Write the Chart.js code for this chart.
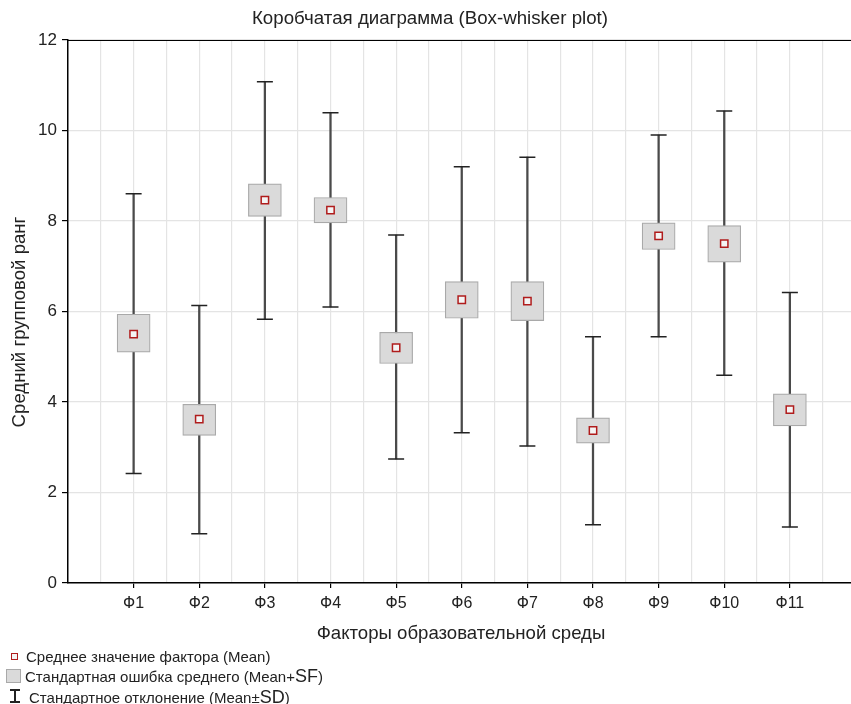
<!DOCTYPE html>
<html><head><meta charset="utf-8">
<script src="https://cdn.jsdelivr.net/npm/chart.js@4.4.1/dist/chart.umd.min.js"></script>
<style>
html,body{margin:0;padding:0;background:#fff;overflow:hidden;}
#wrap{position:relative;width:865px;height:704px;}
canvas{position:absolute;left:0;top:0;}
.t{position:absolute;font-family:"Liberation Sans",Arial,sans-serif;color:#222;white-space:nowrap;line-height:1;}
.big{font-size:1.2em;}
.mk{position:absolute;box-sizing:border-box;}
</style></head><body>
<div id="wrap">
<canvas id="c" width="865" height="704"></canvas>
<div class="t" style="left:430px;top:18px;transform:translate(-50%,-50%);font-size:18.7px;">Коробчатая диаграмма (Box-whisker plot)</div>
<div class="t" style="left:461px;top:633px;transform:translate(-50%,-50%);font-size:18.6px;">Факторы образовательной среды</div>
<div class="t" style="left:19px;top:322px;transform:translate(-50%,-50%) rotate(-90deg);font-size:18.6px;">Средний групповой ранг</div>

<div class="mk" style="left:11px;top:653px;width:7px;height:7px;border:1.5px solid #b01c1c;background:#f4f4f4;"></div>
<div class="t" style="left:26px;top:656px;transform:translateY(-50%);font-size:15px;">Среднее значение фактора (Mean)</div>
<div class="mk" style="left:6px;top:669px;width:15px;height:14px;border:1px solid #a9a9a9;background:#dadada;"></div>
<div class="t" style="left:25px;top:676px;transform:translateY(-50%);font-size:15px;">Стандартная ошибка среднего (Mean+<span class="big">SF</span>)</div>
<div class="mk" style="left:14px;top:689px;width:1.5px;height:13px;background:#222;"></div>
<div class="mk" style="left:10px;top:689px;width:10px;height:1.5px;background:#222;"></div>
<div class="mk" style="left:10px;top:701px;width:10px;height:1.5px;background:#222;"></div>
<div class="t" style="left:29px;top:697px;transform:translateY(-50%);font-size:15px;">Стандартное отклонение (Mean±<span class="big">SD</span>)</div>
</div>
<script>
const categories = ['Ф1','Ф2','Ф3','Ф4','Ф5','Ф6','Ф7','Ф8','Ф9','Ф10','Ф11'];
const meanValues = [5.50, 3.62, 8.46, 8.24, 5.20, 6.26, 6.23, 3.37, 7.67, 7.50, 3.83];
const seLow  = [5.10, 3.26, 8.10, 7.96, 4.85, 5.85, 5.80, 3.09, 7.37, 7.09, 3.47];
const seHigh = [5.94, 3.95, 8.82, 8.52, 5.54, 6.66, 6.66, 3.65, 7.96, 7.90, 4.18];
const sdLow  = [2.42, 1.09, 5.83, 6.10, 2.74, 3.32, 3.03, 1.29, 5.44, 4.59, 1.24];
const sdHigh = [8.60, 6.13, 11.08, 10.39, 7.69, 9.20, 9.41, 5.44, 9.90, 10.43, 6.42];
const yTicks = [0, 2, 4, 6, 8, 10, 12];

const pos = categories.map((c, i) => i + 1);
const isCat = v => Number.isInteger(v) && v >= 1 && v <= categories.length;

const frame = {
  id: 'frame',
  afterDraw(chart) {
    const {ctx, chartArea: a} = chart;
    ctx.save();
    ctx.strokeStyle = '#000';
    ctx.lineWidth = 1.2;
    ctx.beginPath();
    ctx.moveTo(a.left, a.top + 0.5);
    ctx.lineTo(a.right, a.top + 0.5);
    ctx.stroke();
    ctx.restore();
  }
};

new Chart(document.getElementById('c'), {
  type: 'bar',
  data: {
    datasets: [
      {
        type: 'scatter', label: 'Mean', order: 0,
        data: pos.map((x, i) => ({x, y: meanValues[i]})),
        pointStyle: 'rect', pointRadius: 5.2, pointBorderWidth: 1.5,
        pointBorderColor: '#b01c1c', pointBackgroundColor: '#f4f4f4'
      },
      {
        type: 'bar', label: 'SE', order: 1, grouped: false,
        data: pos.map((x, i) => ({x, y: [seLow[i], seHigh[i]]})),
        backgroundColor: '#dadada', borderColor: '#a9a9a9', borderWidth: 1.2,
        borderSkipped: false, barThickness: 33
      },
      {
        type: 'scatter', label: 'caps', order: 2,
        data: pos.map((x, i) => ({x, y: sdLow[i]})).concat(pos.map((x, i) => ({x, y: sdHigh[i]}))),
        pointStyle: 'line', pointRadius: 8, pointBorderWidth: 1.5, pointBorderColor: '#222'
      },
      {
        type: 'bar', label: 'SD', order: 3, grouped: false,
        data: pos.map((x, i) => ({x, y: [sdLow[i], sdHigh[i]]})),
        backgroundColor: '#4a4a4a', borderWidth: 0, barThickness: 1.6
      }
    ]
  },
  options: {
    responsive: false, animation: false, devicePixelRatio: 1,
    layout: {padding: {top: 40, left: 0, right: 0, bottom: 0}},
    plugins: {legend: {display: false}, tooltip: {enabled: false}},
    scales: {
      x: {
        type: 'linear', min: 0, max: categories.length + 1, offset: false,
        afterFit(s) { s.height = 121; },
        afterBuildTicks(s) {
          const t = [];
          for (let v = 0; v <= categories.length + 1; v += 0.5) t.push({value: v});
          s.ticks = t;
        },
        ticks: {
          autoSkip: false, maxRotation: 0, padding: 6,
          color: '#222', font: {family: '"Liberation Sans",Arial', size: 16},
          callback: v => isCat(v) ? categories[v - 1] : ''
        },
        grid: {
          offset: false,
          color: c => (c.tick && c.tick.value === 0) ? 'transparent' : '#e4e4e4',
          tickColor: c => (c.tick && isCat(c.tick.value)) ? '#000' : 'transparent',
          tickLength: 5, lineWidth: 1.2
        },
        border: {color: '#000', width: 1.5}
      },
      y: {
        min: 0, max: 12,
        afterFit(s) { s.width = 68; },
        afterBuildTicks(s) { s.ticks = yTicks.map(v => ({value: v})); },
        ticks: {
          padding: 5, color: '#222',
          font: {family: '"Liberation Sans",Arial', size: 17}
        },
        grid: {color: '#e4e4e4', tickColor: '#000', tickLength: 6, lineWidth: 1.2},
        border: {color: '#000', width: 1.5}
      }
    }
  },
  plugins: [frame]
});
</script>
</body></html>
